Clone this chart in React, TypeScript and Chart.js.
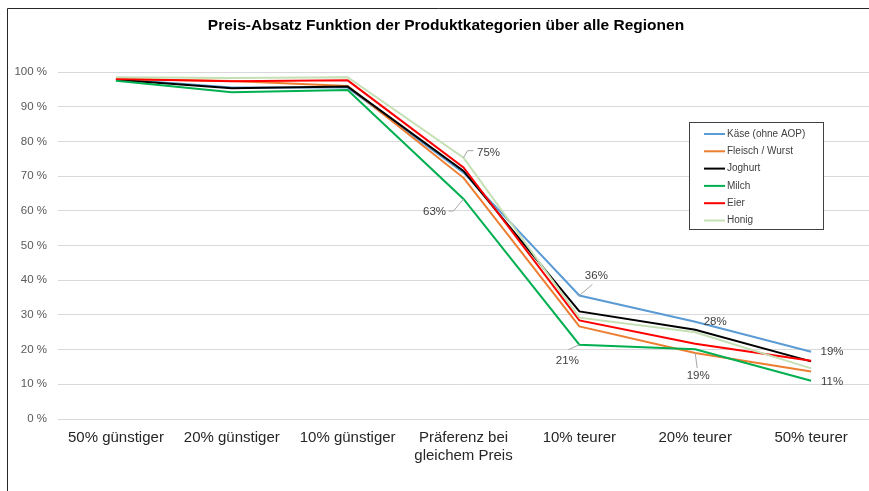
import React, { useEffect, useRef } from "react";
import { Chart, registerables } from "chart.js";

Chart.register(...registerables);

const categories: (string | string[])[] = [
  "50% günstiger",
  "20% günstiger",
  "10% günstiger",
  ["Präferenz bei", "gleichem Preis"],
  "10% teurer",
  "20% teurer",
  "50% teurer",
];

const seriesNames = ["Käse (ohne AOP)", "Fleisch / Wurst", "Joghurt", "Milch", "Eier", "Honig"];
const seriesColors = ["#5b9bd5", "#ed7d31", "#000000", "#00b050", "#ff0000", "#c5e0b4"];

const kaese = [98, 95.5, 95.5, 71, 35.6, 28, 19.4];
const fleisch = [98, 97.4, 96, 69.5, 26.7, 19, 13.7];
const joghurt = [97.8, 95.3, 95.8, 71.5, 31, 25.7, 16.6];
const milch = [97.5, 94.2, 94.8, 63.4, 21.4, 20.1, 11];
const eier = [98, 97.3, 97.6, 72.5, 28.4, 21.7, 16.8];
const honig = [98.5, 98.3, 98.5, 75.3, 29.2, 25, 14.6];

const seriesValues = [kaese, fleisch, joghurt, milch, eier, honig];

const yTicks = [0, 10, 20, 30, 40, 50, 60, 70, 80, 90, 100];

const title = "Preis-Absatz Funktion der Produktkategorien über alle Regionen";

// which points carry a data label: [series index, category index]
const labelledPoints: [number, number][] = [
  [5, 3],
  [3, 3],
  [0, 4],
  [3, 4],
  [0, 5],
  [1, 5],
  [0, 6],
  [3, 6],
];

// label placement (style): offset of text centre from point, and leader
const labelPlacement = [
  { dx: 25, dy: -5, leader: [[0, 0], [4, -7], [10, -7]] },
  { dx: -29, dy: 13, leader: [[0, 0], [-10, 12], [-15, 12]] },
  { dx: 17, dy: -20, leader: [[0, 0], [13, -11]] },
  { dx: -12, dy: 16, leader: [[0, 0], [-11, 5]] },
  { dx: 20, dy: 0, leader: null },
  { dx: 3, dy: 23, leader: [[0, 0], [2, 15]] },
  { dx: 21, dy: 0, leader: null },
  { dx: 21, dy: 1, leader: null },
];

const FONT = "'Liberation Sans', Arial, sans-serif";

const decorPlugin = {
  id: "decor",
  beforeDraw(chart: any) {
    const ctx = chart.ctx;
    ctx.save();
    ctx.fillStyle = "#ffffff";
    ctx.fillRect(0, 0, chart.width, chart.height);
    ctx.restore();
  },
  afterDatasetsDraw(chart: any) {
    const ctx = chart.ctx;
    ctx.save();
    labelledPoints.forEach(([si, ci], k) => {
      const el = chart.getDatasetMeta(si).data[ci];
      const p = labelPlacement[k];
      const x = el.x;
      const y = el.y;
      if (p.leader) {
        ctx.strokeStyle = "#a6a6a6";
        ctx.lineWidth = 1;
        ctx.beginPath();
        p.leader.forEach(([lx, ly], j) => {
          if (j === 0) ctx.moveTo(x + lx, y + ly);
          else ctx.lineTo(x + lx, y + ly);
        });
        ctx.stroke();
      }
      ctx.fillStyle = "#404040";
      ctx.font = `11.5px ${FONT}`;
      ctx.textAlign = "center";
      ctx.textBaseline = "middle";
      ctx.fillText(Math.round(seriesValues[si][ci]) + "%", x + p.dx, y + p.dy);
    });
    ctx.restore();
  },
  afterDraw(chart: any) {
    const ctx = chart.ctx;
    ctx.save();
    // frame
    ctx.strokeStyle = "#262626";
    ctx.lineWidth = 1;
    ctx.beginPath();
    ctx.moveTo(7.5, chart.height);
    ctx.lineTo(7.5, 8.5);
    ctx.lineTo(chart.width, 8.5);
    ctx.stroke();
    // title
    ctx.fillStyle = "#000000";
    ctx.font = `bold 15.5px ${FONT}`;
    ctx.textAlign = "center";
    ctx.textBaseline = "middle";
    ctx.fillText(title, 446, 26);
    // legend
    const lx = 689, ly = 122, lw = 134, lh = 107;
    ctx.fillStyle = "#ffffff";
    ctx.fillRect(lx, ly, lw, lh);
    ctx.strokeStyle = "#404040";
    ctx.strokeRect(lx + 0.5, ly + 0.5, lw, lh);
    ctx.font = `10px ${FONT}`;
    ctx.textAlign = "left";
    seriesNames.forEach((name, i) => {
      const yy = ly + 12 + i * 17.3;
      ctx.strokeStyle = seriesColors[i];
      ctx.lineWidth = 2;
      ctx.beginPath();
      ctx.moveTo(lx + 15, yy);
      ctx.lineTo(lx + 36, yy);
      ctx.stroke();
      ctx.fillStyle = "#404040";
      ctx.fillText(name, lx + 38, yy);
    });
    ctx.restore();
  },
};

export default function App() {
  const ref = useRef<HTMLCanvasElement>(null);
  useEffect(() => {
    document.body.style.overflow = "hidden";
    const chart = new Chart(ref.current!, {
      type: "line",
      data: {
        labels: categories,
        datasets: seriesValues.map((vals, i) => ({
          label: seriesNames[i],
          data: vals,
          borderColor: seriesColors[i],
          backgroundColor: seriesColors[i],
          borderWidth: 2,
          pointRadius: 0,
          tension: 0,
          fill: false,
          order: seriesValues.length - i,
        })),
      },
      options: {
        responsive: false,
        devicePixelRatio: 1,
        animation: false,
        layout: { padding: { top: 72, left: 0, right: 0, bottom: 0 } },
        plugins: {
          legend: { display: false },
          title: { display: false },
          tooltip: { enabled: false },
        },
        scales: {
          x: {
            type: "category",
            offset: true,
            grid: { display: false, drawTicks: false },
            border: { display: false },
            ticks: {
              autoSkip: false,
              maxRotation: 0,
              padding: 10,
              color: "#262626",
              font: { family: FONT, size: 15, lineHeight: 1.2 },
            },
            afterFit(scale: any) {
              scale.height = 72;
            },
          },
          y: {
            min: 0,
            max: 100,
            afterBuildTicks(scale: any) {
              scale.ticks = yTicks.map((v) => ({ value: v }));
            },
            grid: { color: "#d9d9d9", lineWidth: 1, drawTicks: false },
            border: { display: false },
            ticks: {
              padding: 11,
              color: "#595959",
              font: { family: FONT, size: 11.5 },
              callback: (v: any) => v + " %",
            },
            afterFit(scale: any) {
              scale.width = 58;
            },
          },
        },
      },
      plugins: [decorPlugin],
    });
    return () => chart.destroy();
  }, []);
  return (
    <div style={{ position: "absolute", left: 0, top: 0, width: 869, height: 491, overflow: "hidden" }}>
      <canvas ref={ref} width={869} height={491} style={{ display: "block" }} />
    </div>
  );
}
